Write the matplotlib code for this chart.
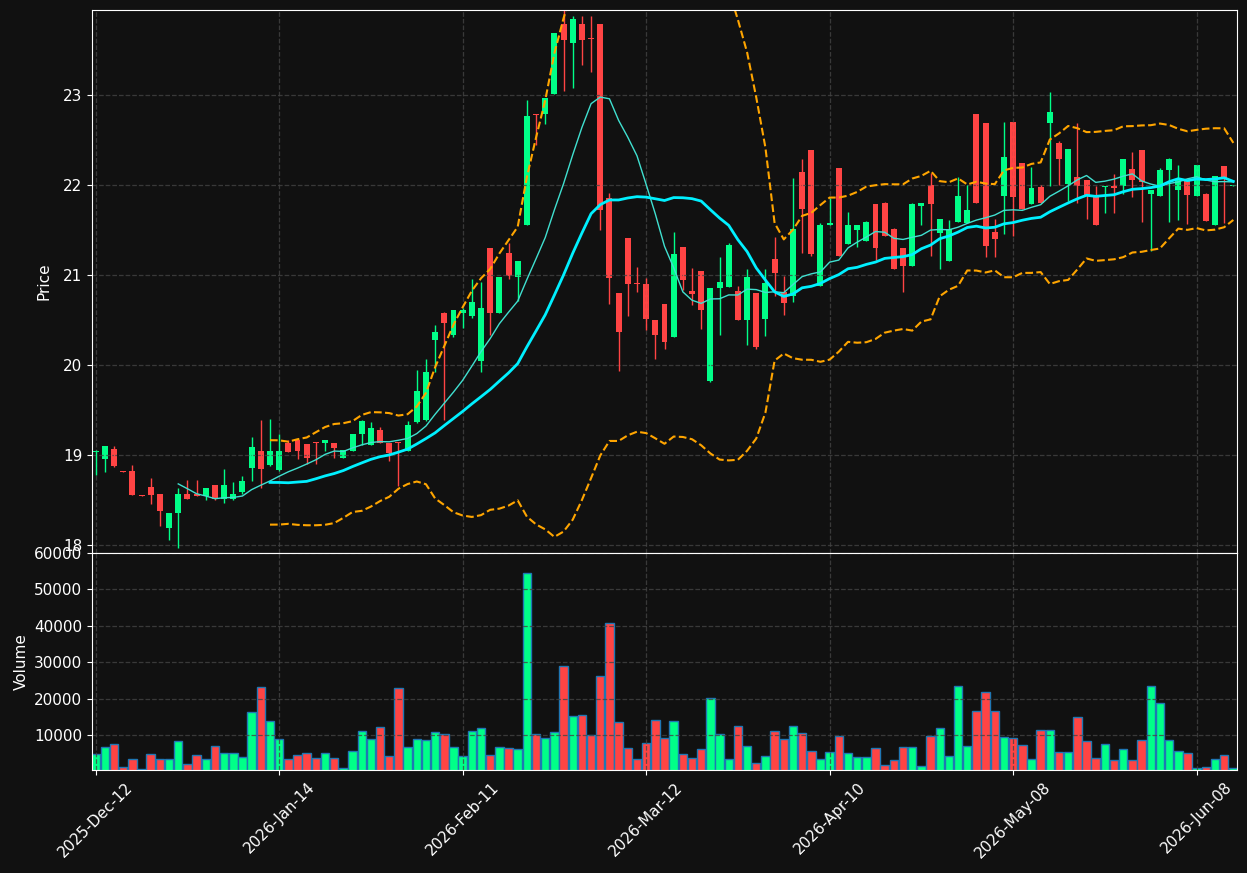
import matplotlib

matplotlib.use("Agg")
import matplotlib.pyplot as plt
import numpy as np
import pandas as pd

# OHLC, one entry per trading bar
opens = [19.03, 18.95, 19.07, 18.82, 18.82, 18.55, 18.64, 18.57, 18.19, 18.35,
         18.57, 18.57, 18.54, 18.66, 18.51, 18.51, 18.59, 18.85, 19.04, 18.89,
         18.83, 19.13, 19.16, 19.12, 19.14, 19.13, 19.13, 18.96, 19.04, 19.23,
         19.11, 19.28, 19.13, 19.14, 19.04, 19.37, 19.39, 20.28, 20.57, 20.33,
         20.57, 20.54, 20.04, 21.30, 20.58, 21.24, 20.98, 21.55, 22.78, 22.78,
         23.01, 23.78, 23.57, 23.78, 23.63, 23.78, 21.85, 20.80, 21.41, 20.91,
         20.90, 20.50, 20.68, 20.31, 21.31, 20.82, 21.04, 19.82, 20.85, 20.86,
         20.82, 20.50, 20.80, 20.51, 21.17, 20.81, 20.76, 22.14, 22.38, 20.88,
         21.55, 22.18, 21.34, 21.50, 21.37, 21.79, 21.80, 21.51, 21.30, 21.10,
         21.76, 22.00, 21.46, 21.15, 21.59, 21.57, 22.79, 22.68, 21.48, 21.87,
         22.70, 22.24, 21.79, 21.97, 22.69, 22.46, 22.01, 22.09, 22.05, 21.86,
         21.97, 21.99, 21.98, 22.17, 22.39, 21.90, 21.87, 22.16, 21.94, 22.04,
         21.88, 21.90, 21.55, 22.21, 21.98]
highs = [19.05, 19.10, 19.10, 18.82, 18.89, 18.55, 18.74, 18.57, 18.35, 18.63,
         18.72, 18.72, 18.63, 18.66, 18.84, 18.70, 18.76, 19.20, 19.39, 19.40,
         19.23, 19.17, 19.16, 19.12, 19.14, 19.17, 19.13, 19.05, 19.23, 19.39,
         19.37, 19.31, 19.13, 19.14, 19.38, 19.94, 20.06, 20.44, 20.59, 20.61,
         20.63, 20.95, 20.92, 21.30, 20.98, 21.35, 21.15, 22.94, 22.78, 22.96,
         23.69, 23.95, 23.87, 23.87, 23.87, 23.78, 21.91, 20.80, 21.41, 21.09,
         20.96, 20.50, 20.68, 21.48, 21.31, 21.07, 21.04, 20.85, 21.20, 21.35,
         20.87, 21.06, 20.80, 21.06, 21.42, 20.99, 22.07, 22.28, 22.38, 21.57,
         21.85, 22.18, 21.70, 21.55, 21.60, 21.79, 21.81, 21.52, 21.30, 21.80,
         21.80, 22.13, 21.62, 21.61, 22.09, 22.00, 22.79, 22.68, 21.62, 22.70,
         22.70, 22.24, 22.20, 22.00, 23.03, 22.49, 22.40, 22.68, 22.05, 21.98,
         21.99, 22.12, 22.29, 22.36, 22.39, 21.94, 22.19, 22.30, 22.22, 22.04,
         22.22, 21.91, 22.10, 22.21, 22.00]
lows = [18.78, 18.81, 18.87, 18.81, 18.55, 18.54, 18.45, 18.21, 18.05, 17.96,
        18.51, 18.54, 18.50, 18.50, 18.47, 18.50, 18.57, 18.71, 18.63, 18.88,
        18.82, 19.03, 18.95, 18.90, 18.90, 19.04, 18.96, 18.96, 19.04, 19.11,
        19.11, 19.13, 18.93, 18.65, 19.04, 19.35, 19.38, 19.92, 19.39, 20.31,
        20.41, 20.52, 19.92, 20.33, 20.58, 20.95, 20.71, 21.55, 22.44, 22.67,
        23.01, 23.04, 23.07, 23.33, 23.25, 21.50, 20.68, 19.93, 20.54, 20.81,
        20.39, 20.06, 20.17, 20.31, 20.83, 20.66, 20.40, 19.81, 20.33, 20.86,
        20.50, 20.22, 20.17, 20.32, 20.76, 20.55, 20.70, 21.24, 21.21, 20.88,
        21.55, 21.21, 21.34, 21.31, 21.37, 21.16, 21.43, 21.06, 20.81, 21.10,
        21.55, 21.21, 21.06, 21.15, 21.59, 21.57, 21.80, 21.20, 21.20, 21.45,
        21.43, 21.73, 21.79, 21.80, 21.98, 22.00, 21.82, 21.80, 21.62, 21.55,
        21.69, 21.69, 21.90, 21.86, 21.59, 21.26, 21.87, 21.59, 21.61, 21.56,
        21.88, 21.60, 21.55, 21.57, 21.98]
closes = [19.045, 19.10, 18.88, 18.81, 18.55, 18.54, 18.55, 18.38, 18.35, 18.57,
          18.51, 18.54, 18.63, 18.51, 18.66, 18.57, 18.71, 19.09, 18.84, 19.04,
          19.04, 19.03, 19.04, 18.96, 19.13, 19.17, 19.08, 19.05, 19.23, 19.38,
          19.30, 19.13, 19.02, 19.13, 19.33, 19.71, 19.92, 20.36, 20.46, 20.61,
          20.61, 20.70, 20.63, 20.58, 20.98, 20.99, 21.15, 22.76, 22.77, 22.96,
          23.69, 23.61, 23.84, 23.61, 23.62, 21.72, 20.96, 20.36, 20.90, 20.90,
          20.51, 20.33, 20.25, 21.23, 20.94, 20.79, 20.61, 20.85, 20.92, 21.33,
          20.50, 20.98, 20.20, 20.91, 21.02, 20.69, 21.51, 21.73, 21.23, 21.55,
          21.58, 21.21, 21.55, 21.55, 21.59, 21.30, 21.43, 21.06, 21.10, 21.79,
          21.80, 21.79, 21.62, 21.51, 21.88, 21.72, 21.80, 21.32, 21.40, 22.31,
          21.86, 21.73, 21.96, 21.80, 22.81, 22.29, 22.40, 21.98, 21.88, 21.55,
          21.99, 21.96, 22.29, 22.05, 22.03, 21.94, 22.16, 22.28, 22.06, 21.89,
          22.22, 21.60, 22.10, 22.06, 22.00]
volumes = [4770, 6600, 7440, 1100, 3300, 500, 4680, 3300, 3300, 8260,
           1930, 4400, 3300, 6880, 4960, 4960, 3860, 16250, 23130, 13770,
           8810, 3300, 4400, 4960, 3580, 4960, 3580, 800, 5500, 11000,
           8810, 12100, 4130, 22860, 6600, 8810, 8540, 10740, 10190, 6600,
           4130, 11000, 11840, 4400, 6600, 6330, 6060, 54530, 10190, 9090,
           10740, 28920, 15150, 15420, 9910, 26160, 40760, 13490, 6330, 3300,
           7710, 14050, 9090, 13770, 4680, 3580, 6060, 20100, 10190, 3300,
           12390, 6880, 2200, 4130, 11020, 8810, 12390, 10470, 5510, 3300,
           5230, 9640, 4960, 3860, 3860, 6330, 1650, 3030, 6610, 6610,
           1380, 9640, 11840, 4130, 23410, 6880, 16520, 21760, 16520, 9360,
           9090, 7160, 3300, 11290, 11290, 5230, 5230, 14870, 8260, 3580,
           7440, 3030, 6060, 3030, 8540, 23410, 18730, 8540, 5510, 4960,
           830, 1100, 3300, 4400, 830]
tick_labels = ["2025-Dec-12", "2026-Jan-14", "2026-Feb-11", "2026-Mar-12",
               "2026-Apr-10", "2026-May-08", "2026-Jun-08"]

BG = "#111111"
UP, DOWN = "#00ff88", "#ff4444"

df = pd.DataFrame({"open": opens, "high": highs, "low": lows,
                   "close": closes, "volume": volumes})
x = np.arange(len(df))
up = df["close"] >= df["open"]
colors = np.where(up, UP, DOWN)

ma10 = df["close"].rolling(10).mean()
ma20 = df["close"].rolling(20).mean()
sd20 = df["close"].rolling(20).std()

fig = plt.figure(figsize=(12.47, 8.73), dpi=100, facecolor=BG)
ax = fig.add_axes([92 / 1247, 1 - 553 / 873, 1145 / 1247, 543 / 873])
axv = fig.add_axes([92 / 1247, 1 - 770 / 873, 1145 / 1247, 217 / 873], sharex=ax)

for a in (ax, axv):
    a.set_facecolor(BG)
    for s in a.spines.values():
        s.set_color("white")
    a.tick_params(colors="white", labelsize=11)
    a.grid(True, color="#444444", ls="--", lw=0.9, alpha=0.8)

# candles
ax.vlines(x, df["low"], df["high"], colors=colors, lw=1)
body = (df["close"] - df["open"]).abs().clip(lower=0.01)
ax.bar(x, body, 0.65, bottom=df[["open", "close"]].min(axis=1), color=colors)

ax.plot(x, ma10, color="#40e0d0", lw=1)
ax.plot(x, ma20, color="#00f0ff", lw=2)
ax.plot(x, ma20 + 2 * sd20, color="orange", ls="--", lw=1.5)
ax.plot(x, ma20 - 2 * sd20, color="orange", ls="--", lw=1.5)

ax.set_ylim(17.91, 23.94)
ax.set_yticks([18, 19, 20, 21, 22, 23])
ax.set_ylabel("Price", color="white", fontsize=11, labelpad=8)
ax.tick_params(labelbottom=False)

axv.bar(x, df["volume"], 0.92, color=colors, edgecolor="#1f77b4", lw=1)
axv.set_ylim(360, 60000)
axv.set_yticks([10000, 20000, 30000, 40000, 50000, 60000])
axv.set_ylabel("Volume", color="white", fontsize=11)
axv.set_xlim(-0.4, 124.4)
axv.set_xticks(np.arange(0, 121, 20))
axv.set_xticklabels(tick_labels, rotation=45)

fig.savefig("out.png", dpi=100, facecolor=BG)
